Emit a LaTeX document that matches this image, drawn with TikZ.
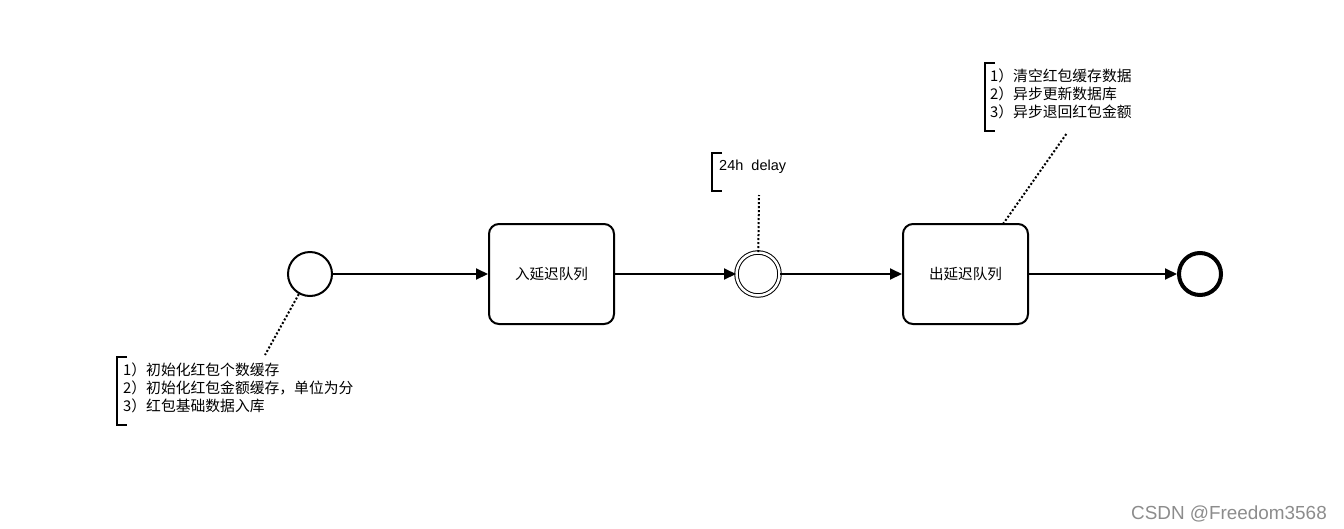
\documentclass[tikz,border=0pt]{standalone}
\usepackage{fontspec}
\setmainfont{Liberation Sans}
\newfontfamily\cjk{Noto Sans CJK SC}
\usetikzlibrary{arrows.meta}
\begin{document}
\begin{tikzpicture}[x=1pt,y=-1pt,
  ev/.style={circle,draw,line width=2pt,minimum size=44pt,inner sep=0pt},
  endev/.style={circle,draw,line width=4pt,minimum size=42pt,inner sep=0pt},
  midev/.style={circle,draw,double,double distance=2.5pt,line width=1pt,minimum size=43pt,inner sep=0pt},
  task/.style={draw,line width=2pt,rounded corners=10pt,minimum width=125pt,minimum height=100pt,font=\cjk\fontsize{14.6}{16}\selectfont},
  flow/.style={line width=2pt,-{Triangle[length=12pt,width=11pt]}},
  assoc/.style={line width=2pt,dotted},
  brk/.style={line width=2pt},
  note/.style={anchor=north west,align=left,inner sep=0pt,font=\cjk\fontsize{14.8}{18}\selectfont}
]
\useasboundingbox (0,0) rectangle (1344,528);
\node[ev] (start) at (310,274) {};
\node[task] (t1) at (551.5,274) {入延迟队列};
\node[midev] (mid) at (758,274) {};
\node[task] (t2) at (965.5,274) {出延迟队列};
\node[endev] (end) at (1200,274) {};
\draw[flow] (start) -- (t1);
\draw[flow] (t1) -- (mid);
\draw[flow] (mid) -- (t2);
\draw[flow] (t2) -- (end);
% annotation 1
\draw[brk] (127,357) -- (117,357) -- (117,425) -- (127,425);
\node[note] (n1) at (123,363) {1）初始化红包个数缓存\\2）初始化红包金额缓存，单位为分\\3）红包基础数据入库};
\coordinate (a1) at (265,355);
\draw[assoc] (start) -- (a1);
% annotation 2
\draw[brk] (722,153) -- (712,153) -- (712,191) -- (722,191);
\node[note,font=\fontsize{14.5}{18}\selectfont] (n2) at (719,160) {24h\ \ delay};
\coordinate (a2) at (759,195);
\draw[assoc] (mid) -- (a2);
% annotation 3
\draw[brk] (995,63) -- (985,63) -- (985,131) -- (995,131);
\node[note] (n3) at (990,69) {1）清空红包缓存数据\\2）异步更新数据库\\3）异步退回红包金额};
\coordinate (a3) at (1067,133);
\draw[assoc] (1003,224) -- (a3);
\node[anchor=base east,text=black!45,font=\fontsize{18.9}{21}\selectfont,inner sep=0pt] (wm) at (1327,519) {CSDN @Freedom3568};
\end{tikzpicture}
\end{document}
